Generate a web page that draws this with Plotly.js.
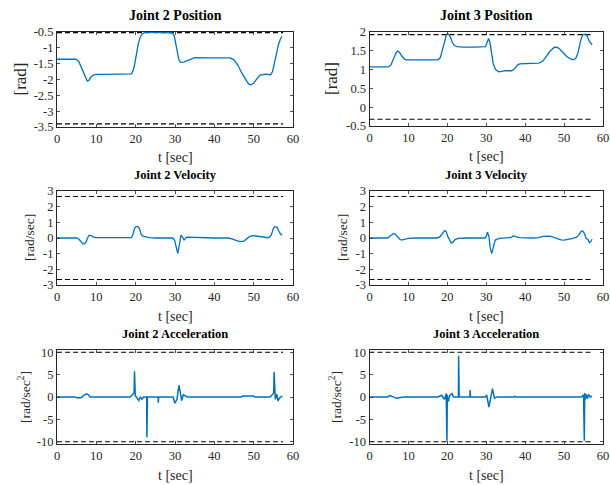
<!DOCTYPE html>
<html>
<head>
<meta charset="utf-8">
<script src="https://cdn.plot.ly/plotly-3.0.1.min.js"></script>
<style>html,body{margin:0;padding:0;background:#fff;}#chart{width:610px;height:485px;}</style>
</head>
<body>
<div id="chart"></div>
<script>
// ---------------- data ----------------
const xTicks = [0, 10, 20, 30, 40, 50, 60];
const posTicks2 = [-3.5, -3, -2.5, -2, -1.5, -1, -0.5];
const posTicks3 = [-0.5, 0, 0.5, 1, 1.5, 2];
const velTicks = [-3, -2, -1, 0, 1, 2, 3];
const accTicks = [-10, -5, 0, 5, 10];

const limitSpan = [0, 57.5];
const pos2Limits = [-0.52, -3.40];
const pos3Limits = [1.93, -0.32];
const velLimits = [2.65, -2.65];
const accLimits = [10.1, -10.1];

const tPos2 = [0, 4.8, 5.5, 6.2, 6.8, 7.3, 7.7, 8.1, 8.6, 9.2, 10, 12, 15, 18, 19, 19.6, 20.2, 20.7, 21.2, 21.7, 22.2, 23, 25, 28, 29.3, 29.8, 30.2, 30.6, 31.0, 31.4, 32.2, 33, 34, 35, 38, 41, 44, 45, 46, 47, 48, 48.7, 49.3, 50, 50.8, 51.6, 53, 54.3, 54.8, 55.3, 55.8, 56.3, 56.8, 57.2];
const pos2 = [-1.36, -1.36, -1.42, -1.62, -1.85, -1.98, -2.05, -2.03, -1.93, -1.86, -1.84, -1.84, -1.84, -1.84, -1.82, -1.62, -1.20, -0.85, -0.65, -0.56, -0.52, -0.51, -0.51, -0.52, -0.53, -0.62, -0.85, -1.15, -1.38, -1.46, -1.45, -1.41, -1.36, -1.31, -1.32, -1.32, -1.32, -1.38, -1.55, -1.80, -2.02, -2.14, -2.17, -2.12, -1.98, -1.86, -1.83, -1.85, -1.75, -1.45, -1.15, -0.90, -0.72, -0.64];

const tPos3 = [0, 4.8, 5.5, 6.2, 6.8, 7.2, 7.7, 8.3, 9.0, 9.6, 12, 15, 17.6, 18.2, 18.8, 19.3, 19.8, 20.3, 20.8, 21.3, 21.8, 22.5, 24, 27, 29.8, 30.2, 30.6, 30.9, 31.3, 31.8, 32.4, 33.2, 34, 35, 36.5, 37.3, 38.0, 38.6, 40, 42, 43.5, 44.5, 45.5, 46.5, 47.6, 48.5, 49.5, 50.5, 51.5, 52.4, 53.0, 53.6, 54.2, 54.8, 55.5, 56.0, 56.5, 57.2];
const pos3 = [1.07, 1.07, 1.12, 1.30, 1.44, 1.49, 1.46, 1.36, 1.28, 1.26, 1.26, 1.26, 1.26, 1.32, 1.55, 1.80, 1.94, 1.95, 1.86, 1.72, 1.64, 1.61, 1.60, 1.60, 1.61, 1.72, 1.83, 1.75, 1.50, 1.15, 1.00, 0.94, 0.95, 0.97, 0.97, 1.02, 1.12, 1.15, 1.16, 1.16, 1.17, 1.22, 1.35, 1.50, 1.60, 1.58, 1.48, 1.37, 1.29, 1.26, 1.30, 1.45, 1.75, 1.93, 1.94, 1.88, 1.75, 1.66];

const tVel2 = [0, 5.0, 5.6, 6.1, 6.6, 7.0, 7.4, 7.8, 8.2, 8.7, 9.3, 9.9, 12, 15, 18.9, 19.3, 19.7, 20.1, 20.6, 21.0, 21.4, 21.8, 22.5, 23.5, 25, 29.4, 29.9, 30.3, 30.7, 31.1, 31.5, 31.9, 32.3, 33, 34, 35.5, 40, 43.5, 44.5, 45.5, 46.5, 47.5, 48.3, 49.0, 49.9, 51, 52.5, 53.8, 54.5, 55.0, 55.4, 56.0, 56.4, 56.8, 57.2];
const vel2 = [0, 0, -0.08, -0.25, -0.38, -0.38, -0.25, 0.02, 0.18, 0.15, 0.05, 0.02, 0.01, 0.0, 0.02, 0.2, 0.62, 0.72, 0.72, 0.58, 0.25, 0.12, 0.06, 0.02, 0.0, 0.0, -0.15, -0.65, -0.98, -0.45, 0.18, 0.05, -0.12, 0.06, 0.05, 0.02, 0.0, 0.0, -0.05, -0.15, -0.23, -0.2, -0.05, 0.1, 0.15, 0.12, 0.05, 0.02, 0.2, 0.6, 0.72, 0.68, 0.45, 0.25, 0.17];

const tVel3 = [0, 4.6, 5.2, 5.7, 6.1, 6.6, 7.2, 7.8, 8.3, 9.0, 9.9, 12, 17.5, 18.2, 18.8, 19.3, 19.7, 20.1, 20.6, 21.0, 21.5, 22.0, 22.7, 25, 29.7, 30.0, 30.3, 30.7, 31.0, 31.4, 31.8, 32.3, 33.3, 35, 36.3, 37.0, 37.6, 38.4, 42, 43.5, 44.5, 45.3, 46.2, 47.2, 48.2, 49.2, 50.0, 51, 52.3, 53.2, 53.8, 54.4, 54.8, 55.2, 55.7, 56.1, 56.5, 56.9, 57.2];
const vel3 = [0, 0, 0.1, 0.22, 0.28, 0.25, 0.08, -0.08, -0.13, -0.1, -0.02, 0, 0, 0.1, 0.32, 0.47, 0.42, 0.1, -0.12, -0.33, -0.25, -0.1, -0.03, 0, 0, 0.1, 0.38, 0.1, -0.6, -1.0, -0.6, -0.13, -0.02, 0, 0.03, 0.13, 0.1, 0.02, 0.0, 0.03, 0.1, 0.13, 0.12, 0.05, -0.05, -0.12, -0.13, -0.1, -0.02, 0.05, 0.2, 0.42, 0.45, 0.3, -0.05, -0.08, -0.3, -0.2, -0.08];

const tAcc2 = [0, 4.6, 5.4, 6.2, 7.0, 7.5, 8.0, 8.4, 9, 18.6, 19.2, 19.6, 19.7, 19.8, 19.9, 20.3, 20.8, 21.2, 21.6, 22.0, 22.8, 22.85, 22.9, 23.0, 25.7, 25.75, 25.8, 25.85, 29.5, 30.0, 30.5, 30.8, 31.0, 31.2, 31.7, 32.1, 32.6, 33.2, 46.9, 47.2, 50, 50.3, 54.2, 54.8, 55.1, 55.2, 55.3, 55.5, 55.9, 56.2, 56.4, 56.8, 57.3];
const acc2 = [0, 0, -0.2, -0.1, 0.5, 0.7, 0.5, 0, 0, 0, 0.5, 1.0, 5.8, 1.5, 0.3, -0.2, -0.8, 0.0, -0.5, 0, 0, -9.1, -3, 0, 0, -1.3, -0.3, 0, 0, -1.4, -0.5, 1.5, 2.6, 1.8, -0.8, 0.5, 0.2, 0, 0, 0.2, 0.2, 0, 0, 0.5, 0.9, 5.7, 0.8, -0.5, 0.6, -0.9, -0.5, 0, 0.2];

const tAcc3 = [0, 4.6, 5.3, 6.0, 7.0, 8.0, 9.0, 17.6, 18.5, 19.3, 19.7, 19.9, 20.0, 20.1, 20.3, 20.6, 21.2, 21.6, 22.2, 22.85, 22.9, 22.95, 23.0, 23.05, 25.8, 25.85, 25.9, 25.95, 29.8, 30.1, 30.7, 31.1, 31.6, 32.1, 32.6, 33.3, 37.0, 37.3, 37.6, 54.5, 55.0, 55.2, 55.3, 55.4, 55.7, 56.0, 56.3, 56.7, 57.2];
const acc3 = [0, 0, 0.3, 0.1, -0.3, -0.1, 0, 0, 0.4, -0.5, 0.8, -9.85, 0.5, -0.5, -1.0, 0.3, 0.8, 0, 0, 0, 9.3, 3.7, 0, 0, 0, 1.6, 0.3, 0, 0, 0.5, -2.3, -0.5, 1.9, -0.3, 0, 0, 0, 0.2, 0, 0, 0.5, -9.85, 0.9, -0.6, 0.6, -0.4, 0.6, 0, 0.2];

// ---------------- layout helpers ----------------
const W = 610, H = 485;
const px = v => v / W;
const py = v => 1 - v / H;
const blue = '#0072BD';
const serif = 'Liberation Serif, Times New Roman, serif';
const tickColor = '#262626';

const panels = [
  {ax: '', t: tPos2, y: pos2, lim: pos2Limits, ticks: posTicks2, range: [-3.5, -0.5], x0: 57, x1: 293, y0: 32, y1: 127, title: 'Joint 2 Position', tSize: 14, ylab: '[rad]', ySize: 17, ylx: 20, w: 1.3},
  {ax: '2', t: tPos3, y: pos3, lim: pos3Limits, ticks: posTicks3, range: [-0.5, 2], x0: 369.5, x1: 603, y0: 32, y1: 126, title: 'Joint 3 Position', tSize: 14, ylab: '[rad]', ySize: 17, ylx: 332, w: 1.3},
  {ax: '3', t: tVel2, y: vel2, lim: velLimits, ticks: velTicks, range: [-3, 3], x0: 57, x1: 293, y0: 191, y1: 285, title: 'Joint 2 Velocity', tSize: 12.5, ylab: '[rad/sec]', ySize: 13.5, ylx: 29, w: 1.3},
  {ax: '4', t: tVel3, y: vel3, lim: velLimits, ticks: velTicks, range: [-3, 3], x0: 369.5, x1: 603, y0: 191, y1: 285, title: 'Joint 3 Velocity', tSize: 12.5, ylab: '[rad/sec]', ySize: 13.5, ylx: 342, w: 1.3},
  {ax: '5', t: tAcc2, y: acc2, lim: accLimits, ticks: accTicks, range: [-10.6, 10.6], x0: 57, x1: 293, y0: 350, y1: 444, title: 'Joint 2 Acceleration', tSize: 12.5, ylab: '[rad/sec<sup>2</sup>]', ySize: 13.5, ylx: 24, w: 1.5},
  {ax: '6', t: tAcc3, y: acc3, lim: accLimits, ticks: accTicks, range: [-10.6, 10.6], x0: 369.5, x1: 603, y0: 350, y1: 444, title: 'Joint 3 Acceleration', tSize: 12.5, ylab: '[rad/sec<sup>2</sup>]', ySize: 13.5, ylx: 335, w: 1.5}
];

const traces = [];
const layout = {
  width: W, height: H,
  margin: {l: 0, r: 0, t: 0, b: 0},
  paper_bgcolor: '#ffffff', plot_bgcolor: '#ffffff',
  showlegend: false,
  font: {family: serif, size: 12, color: tickColor},
  annotations: []
};

panels.forEach(p => {
  const xa = 'x' + p.ax, ya = 'y' + p.ax;
  [p.lim[0], p.lim[1]].forEach(l => {
    traces.push({x: limitSpan, y: [l, l], xaxis: xa, yaxis: ya, mode: 'lines',
      line: {color: '#000000', width: 1.1, dash: '5px,3px'}, hoverinfo: 'skip'});
  });
  traces.push({x: p.t, y: p.y, xaxis: xa, yaxis: ya, mode: 'lines',
    line: {color: blue, width: p.w}, hoverinfo: 'skip'});
  const axCommon = {showgrid: false, zeroline: false, showline: true, linecolor: '#262626', linewidth: 1,
    ticks: 'inside', ticklen: 3, tickwidth: 0.8, tickcolor: '#262626', mirror: 'ticks',
    tickfont: {family: serif, size: 12.5, color: tickColor}, tickmode: 'array', fixedrange: true};
  layout['xaxis' + p.ax] = Object.assign({}, axCommon, {
    domain: [px(p.x0), px(p.x1)], anchor: ya, range: [0, 60],
    tickvals: xTicks, ticktext: xTicks.map(String)});
  layout['yaxis' + p.ax] = Object.assign({}, axCommon, {
    domain: [py(p.y1), py(p.y0)], anchor: xa, range: p.range,
    tickvals: p.ticks, ticktext: p.ticks.map(String)});
  const cx = (p.x0 + p.x1) / 2;
  layout.annotations.push({xref: 'paper', yref: 'paper', x: px(cx), y: py(p.y0 - 16), text: '<b>' + p.title + '</b>',
    showarrow: false, xanchor: 'center', yanchor: 'middle', font: {family: serif, size: p.tSize, color: '#000000'}});
  layout.annotations.push({xref: 'paper', yref: 'paper', x: px(cx), y: py(p.y1 + 31), text: 't [sec]',
    showarrow: false, xanchor: 'center', yanchor: 'middle', font: {family: serif, size: 14, color: tickColor}});
  layout.annotations.push({xref: 'paper', yref: 'paper', x: px(p.ylx), y: py((p.y0 + p.y1) / 2), text: p.ylab, textangle: -90,
    showarrow: false, xanchor: 'center', yanchor: 'middle', font: {family: serif, size: p.ySize, color: tickColor}});
});

Plotly.newPlot('chart', traces, layout, {displayModeBar: false, staticPlot: true});
</script>
</body>
</html>
